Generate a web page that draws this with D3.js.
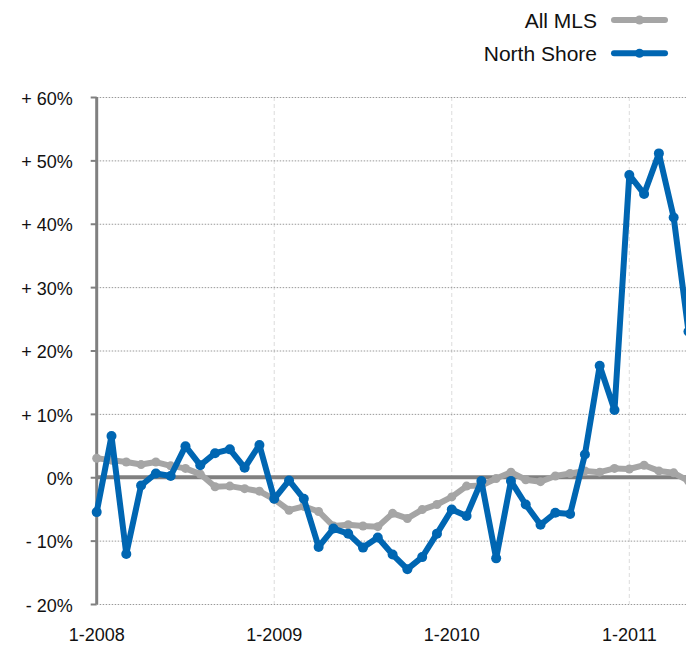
<!DOCTYPE html>
<html>
<head>
<meta charset="utf-8">
<script src="https://cdn.jsdelivr.net/npm/d3@7"></script>
<style>
  body { margin: 0; background: #fff; }
  text { font-family: "Liberation Sans", Arial, Helvetica, sans-serif; fill: #111; }
</style>
</head>
<body>
<div id="chart"></div>
<script>
var width = 686, height = 645;

// month index 0 = Jan 2008
var yearLabels = ["1-2008", "1-2009", "1-2010", "1-2011"];
var yTicks = [-20, -10, 0, 10, 20, 30, 40, 50, 60];
var seriesNames = ["All MLS", "North Shore"];

var allMls = [3.0, 2.7, 2.4, 2.0, 2.4, 1.8, 1.4, 0.5, -1.5, -1.4, -1.8, -2.2,
              -3.5, -5.2, -4.6, -5.4, -7.7, -7.5, -7.7, -7.8, -5.7, -6.5, -5.1, -4.3,
              -3.1, -1.4, -1.3, -0.2, 0.8, -0.4, -0.7, 0.2, 0.6, 1.0, 0.8, 1.4,
              1.3, 1.9, 1.0, 0.7, -0.6];
var northShore = [-5.5, 6.5, -12.1, -1.3, 0.6, 0.2, 4.9, 1.9, 3.8, 4.4, 1.5, 5.1,
                  -3.4, -0.5, -3.4, -11.0, -8.1, -8.9, -11.1, -9.5, -12.2, -14.5, -12.6, -8.9,
                  -5.1, -6.1, -0.6, -12.8, -0.6, -4.3, -7.5, -5.6, -5.8, 3.6, 17.6, 10.6,
                  47.7, 44.7, 51.1, 41.0, 23.0];

var colors = ["#a5a5a5", "#0066b2"];

var svg = d3.select("#chart").append("svg")
    .attr("width", width)
    .attr("height", height);

var x = d3.scaleLinear()
    .domain([0, 36])
    .range([96.7, 629.3]);

var y = d3.scaleLinear()
    .domain([-20, 60])
    .range([604, 97]);

// vertical year gridlines
svg.append("g").selectAll("line")
    .data(yearLabels.slice(1))
    .enter().append("line")
    .attr("x1", function (d, i) { return x((i + 1) * 12); })
    .attr("x2", function (d, i) { return x((i + 1) * 12); })
    .attr("y1", y(60))
    .attr("y2", y(-20))
    .attr("stroke", "#dcdcdc")
    .attr("stroke-width", 1)
    .attr("stroke-dasharray", "4,3");

// horizontal dotted gridlines
svg.append("g").selectAll("line")
    .data(yTicks.filter(function (d) { return d !== 0; }))
    .enter().append("line")
    .attr("x1", x(0))
    .attr("x2", width)
    .attr("y1", function (d) { return y(d) + 0.5; })
    .attr("y2", function (d) { return y(d) + 0.5; })
    .attr("stroke", "#999")
    .attr("stroke-width", 1)
    .attr("stroke-dasharray", "1.5,1.5");

// zero line
svg.append("line")
    .attr("x1", x(0))
    .attr("x2", width)
    .attr("y1", y(0))
    .attr("y2", y(0))
    .attr("stroke", "#808080")
    .attr("stroke-width", 4);

// y axis
var yAxis = svg.append("g")
    .attr("transform", "translate(" + x(0) + ",0)")
    .call(d3.axisLeft(y)
        .tickValues(yTicks)
        .tickSize(6)
        .tickPadding(18)
        .tickFormat(function (d) { return d < 0 ? "- " + (-d) + "%" : (d > 0 ? "+ " + d + "%" : "0%"); }));
yAxis.select(".domain")
    .attr("stroke", "#808080")
    .attr("stroke-width", 3)
    .attr("d", "M0," + y(60) + "V" + y(-20));
yAxis.selectAll(".tick line")
    .attr("stroke", "#808080")
    .attr("stroke-width", 2);
yAxis.selectAll(".tick text")
    .attr("dy", "0.4em")
    .style("font-size", "18px")
    .style("font-family", "'Liberation Sans', Arial, sans-serif")
    .attr("fill", "#111");

// x labels
svg.append("g").selectAll("text")
    .data(yearLabels)
    .enter().append("text")
    .attr("x", function (d, i) { return x(i * 12); })
    .attr("y", 640.5)
    .attr("text-anchor", "middle")
    .style("font-size", "18px")
    .text(function (d) { return d; });

// series
var line = d3.line()
    .x(function (d, i) { return x(i); })
    .y(function (d) { return y(d); });

[allMls, northShore].forEach(function (data, s) {
    svg.append("path")
        .datum(data)
        .attr("d", line)
        .attr("fill", "none")
        .attr("stroke", colors[s])
        .attr("stroke-width", 6)
        .attr("stroke-linejoin", "round");
    svg.append("g").selectAll("circle")
        .data(data)
        .enter().append("circle")
        .attr("cx", function (d, i) { return x(i); })
        .attr("cy", function (d) { return y(d); })
        .attr("r", s === 1 ? 5 : 4.5)
        .attr("fill", colors[s]);
});

// legend
var legend = svg.append("g").selectAll("g")
    .data(seriesNames)
    .enter().append("g")
    .attr("transform", function (d, i) { return "translate(0," + (20 + i * 33.3) + ")"; });
legend.append("text")
    .attr("x", 597)
    .attr("y", 8)
    .attr("text-anchor", "end")
    .style("font-size", "21px")
    .text(function (d) { return d; });
legend.append("line")
    .attr("x1", 614)
    .attr("x2", 665)
    .attr("stroke", function (d, i) { return colors[i]; })
    .attr("stroke-width", 6)
    .attr("stroke-linecap", "round");
legend.append("circle")
    .attr("cx", 639.5)
    .attr("r", 4.5)
    .attr("fill", function (d, i) { return colors[i]; });
</script>
</body>
</html>
